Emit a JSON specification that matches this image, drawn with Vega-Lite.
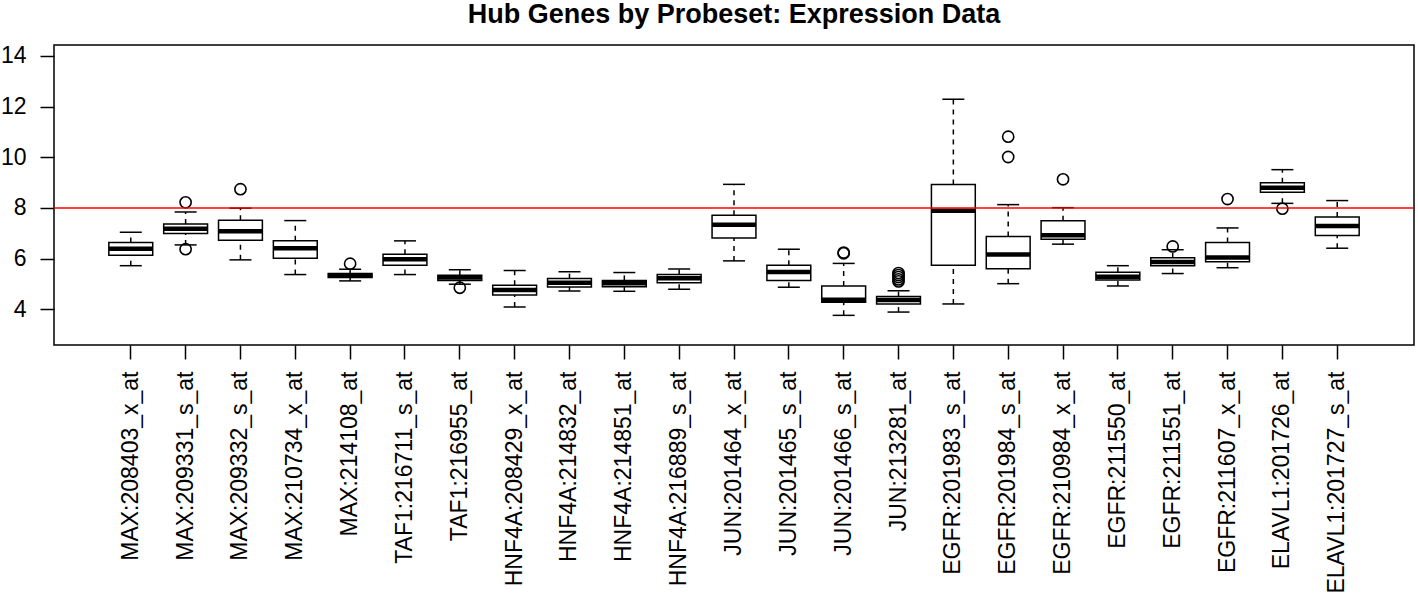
{
  "$schema": "https://vega.github.io/schema/vega-lite/v6.json",
  "width": 1360,
  "height": 300,
  "autosize": {"type": "none"},
  "padding": {"left": 54, "top": 45, "right": 4, "bottom": 254},
  "background": "white",
  "title": {"text": "Hub Genes by Probeset: Expression Data", "fontSize": 27, "font": "Liberation Sans", "fontWeight": "bold", "color": "black", "offset": 16, "anchor": "middle"},
  "config": {
    "view": {"stroke": "black", "strokeWidth": 1.5},
    "axisX": {"labelAngle": 270, "labelFontSize": 23, "labelFont": "Liberation Sans", "labelColor": "black", "tickColor": "black", "tickSize": 14, "tickWidth": 1.5, "labelPadding": 12, "domain": false, "grid": false, "title": null, "labelOverlap": false, "labelLimit": 400},
    "axisY": {"labelFontSize": 23, "labelFont": "Liberation Sans", "labelColor": "black", "tickColor": "black", "tickSize": 14, "tickWidth": 1.5, "labelPadding": 14, "domain": false, "grid": false, "title": null, "values": [4, 6, 8, 10, 12, 14]}
  },
  "datasets": {
    "boxes": [
      {"probe": "MAX:208403_x_at", "lower": 5.72, "q1": 6.13, "median": 6.39, "q3": 6.64, "upper": 7.04},
      {"probe": "MAX:209331_s_at", "lower": 6.54, "q1": 6.99, "median": 7.18, "q3": 7.37, "upper": 7.84},
      {"probe": "MAX:209332_s_at", "lower": 5.95, "q1": 6.72, "median": 7.08, "q3": 7.51, "upper": 7.99},
      {"probe": "MAX:210734_x_at", "lower": 5.37, "q1": 6.01, "median": 6.41, "q3": 6.70, "upper": 7.50},
      {"probe": "MAX:214108_at", "lower": 5.12, "q1": 5.25, "median": 5.33, "q3": 5.41, "upper": 5.58},
      {"probe": "TAF1:216711_s_at", "lower": 5.37, "q1": 5.74, "median": 5.97, "q3": 6.17, "upper": 6.70},
      {"probe": "TAF1:216955_at", "lower": 4.99, "q1": 5.14, "median": 5.25, "q3": 5.34, "upper": 5.56},
      {"probe": "HNF4A:208429_x_at", "lower": 4.09, "q1": 4.56, "median": 4.76, "q3": 4.95, "upper": 5.53},
      {"probe": "HNF4A:214832_at", "lower": 4.72, "q1": 4.88, "median": 5.05, "q3": 5.21, "upper": 5.48},
      {"probe": "HNF4A:214851_at", "lower": 4.71, "q1": 4.89, "median": 5.03, "q3": 5.14, "upper": 5.45},
      {"probe": "HNF4A:216889_s_at", "lower": 4.79, "q1": 5.05, "median": 5.22, "q3": 5.37, "upper": 5.59},
      {"probe": "JUN:201464_x_at", "lower": 5.91, "q1": 6.81, "median": 7.34, "q3": 7.71, "upper": 8.93},
      {"probe": "JUN:201465_s_at", "lower": 4.87, "q1": 5.14, "median": 5.47, "q3": 5.74, "upper": 6.37},
      {"probe": "JUN:201466_s_at", "lower": 3.76, "q1": 4.28, "median": 4.38, "q3": 4.92, "upper": 5.81},
      {"probe": "JUN:213281_at", "lower": 3.89, "q1": 4.21, "median": 4.37, "q3": 4.50, "upper": 4.73},
      {"probe": "EGFR:201983_s_at", "lower": 4.21, "q1": 5.74, "median": 7.89, "q3": 8.92, "upper": 12.29},
      {"probe": "EGFR:201984_s_at", "lower": 5.01, "q1": 5.60, "median": 6.16, "q3": 6.87, "upper": 8.13},
      {"probe": "EGFR:210984_x_at", "lower": 6.57, "q1": 6.76, "median": 6.92, "q3": 7.49, "upper": 8.01},
      {"probe": "EGFR:211550_at", "lower": 4.92, "q1": 5.16, "median": 5.28, "q3": 5.46, "upper": 5.72},
      {"probe": "EGFR:211551_at", "lower": 5.41, "q1": 5.72, "median": 5.87, "q3": 6.03, "upper": 6.35},
      {"probe": "EGFR:211607_x_at", "lower": 5.64, "q1": 5.88, "median": 6.04, "q3": 6.64, "upper": 7.21},
      {"probe": "ELAVL1:201726_at", "lower": 8.18, "q1": 8.62, "median": 8.80, "q3": 8.99, "upper": 9.51},
      {"probe": "ELAVL1:201727_s_at", "lower": 6.41, "q1": 6.91, "median": 7.29, "q3": 7.64, "upper": 8.29}
    ],
    "outliers": [
      {"probe": "MAX:209331_s_at", "value": 8.22},
      {"probe": "MAX:209331_s_at", "value": 6.37},
      {"probe": "MAX:209332_s_at", "value": 8.74},
      {"probe": "MAX:214108_at", "value": 5.80},
      {"probe": "TAF1:216955_at", "value": 4.85},
      {"probe": "JUN:201466_s_at", "value": 6.21},
      {"probe": "JUN:201466_s_at", "value": 6.24},
      {"probe": "JUN:213281_at", "value": 5.43},
      {"probe": "JUN:213281_at", "value": 5.35},
      {"probe": "JUN:213281_at", "value": 5.27},
      {"probe": "JUN:213281_at", "value": 5.18},
      {"probe": "JUN:213281_at", "value": 5.10},
      {"probe": "EGFR:201984_s_at", "value": 10.81},
      {"probe": "EGFR:201984_s_at", "value": 10.01},
      {"probe": "EGFR:210984_x_at", "value": 9.13},
      {"probe": "EGFR:211551_at", "value": 6.48},
      {"probe": "EGFR:211607_x_at", "value": 8.35},
      {"probe": "ELAVL1:201726_at", "value": 7.97}
    ],
    "refline": [{"level": 8}]
  },
  "layer": [
    {
      "data": {"name": "boxes"},
      "mark": {"type": "rule", "color": "black", "strokeWidth": 1.5, "strokeDash": [5, 5]},
      "encoding": {
        "x": {"field": "probe", "type": "nominal", "scale": {"type": "band", "paddingInner": 0.2, "paddingOuter": 1.025, "domain": ["MAX:208403_x_at", "MAX:209331_s_at", "MAX:209332_s_at", "MAX:210734_x_at", "MAX:214108_at", "TAF1:216711_s_at", "TAF1:216955_at", "HNF4A:208429_x_at", "HNF4A:214832_at", "HNF4A:214851_at", "HNF4A:216889_s_at", "JUN:201464_x_at", "JUN:201465_s_at", "JUN:201466_s_at", "JUN:213281_at", "EGFR:201983_s_at", "EGFR:201984_s_at", "EGFR:210984_x_at", "EGFR:211550_at", "EGFR:211551_at", "EGFR:211607_x_at", "ELAVL1:201726_at", "ELAVL1:201727_s_at"]}},
        "y": {"field": "q3", "type": "quantitative", "scale": {"domain": [2.59, 14.43], "nice": false, "zero": false}},
        "y2": {"field": "upper"}
      }
    },
    {
      "data": {"name": "boxes"},
      "mark": {"type": "rule", "color": "black", "strokeWidth": 1.5, "strokeDash": [5, 5]},
      "encoding": {
        "x": {"field": "probe", "type": "nominal"},
        "y": {"field": "lower", "type": "quantitative"},
        "y2": {"field": "q1"}
      }
    },
    {
      "data": {"name": "boxes"},
      "mark": {"type": "tick", "color": "black", "size": 22, "thickness": 1.5, "opacity": 1},
      "encoding": {
        "x": {"field": "probe", "type": "nominal"},
        "y": {"field": "upper", "type": "quantitative"}
      }
    },
    {
      "data": {"name": "boxes"},
      "mark": {"type": "tick", "color": "black", "size": 22, "thickness": 1.5, "opacity": 1},
      "encoding": {
        "x": {"field": "probe", "type": "nominal"},
        "y": {"field": "lower", "type": "quantitative"}
      }
    },
    {
      "data": {"name": "boxes"},
      "mark": {"type": "bar", "fill": "white", "stroke": "black", "strokeWidth": 1.5, "opacity": 1},
      "encoding": {
        "x": {"field": "probe", "type": "nominal"},
        "y": {"field": "q1", "type": "quantitative"},
        "y2": {"field": "q3"}
      }
    },
    {
      "data": {"name": "boxes"},
      "mark": {"type": "tick", "color": "black", "size": 44, "thickness": 4.5, "opacity": 1},
      "encoding": {
        "x": {"field": "probe", "type": "nominal"},
        "y": {"field": "median", "type": "quantitative"}
      }
    },
    {
      "data": {"name": "outliers"},
      "mark": {"type": "point", "filled": false, "stroke": "black", "strokeWidth": 1.6, "size": 125, "opacity": 1},
      "encoding": {
        "x": {"field": "probe", "type": "nominal"},
        "y": {"field": "value", "type": "quantitative"}
      }
    },
    {
      "data": {"name": "refline"},
      "mark": {"type": "rule", "color": "#ff0000", "strokeWidth": 1.5},
      "encoding": {
        "y": {"field": "level", "type": "quantitative"}
      }
    }
  ]
}
